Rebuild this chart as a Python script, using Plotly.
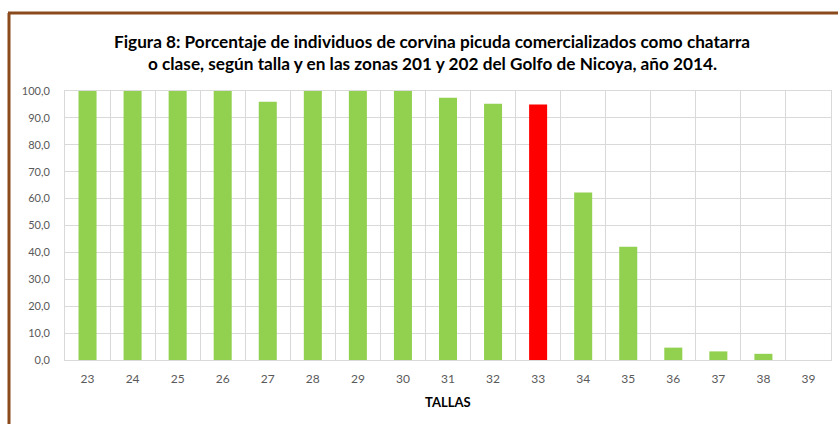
import plotly.graph_objects as go

tallas = ["23", "24", "25", "26", "27", "28", "29", "30", "31", "32", "33", "34", "35", "36", "37", "38", "39"]
porcentaje = [100.0, 100.0, 100.0, 100.0, 96.0, 100.0, 100.0, 100.0, 97.5, 95.3, 95.0, 62.3, 42.1, 4.6, 3.2, 2.3, 0.0]
colores = ["#92d050"] * 10 + ["#ff0000"] + ["#92d050"] * 6

W, H = 838, 424
L, R, T, B = 65, 7, 91, 64
pw, ph = W - L - R, H - T - B

def px_x(x):
    return (x - L) / pw

def px_y(y):
    return (H - B - y) / ph

fig = go.Figure(go.Bar(x=tallas, y=porcentaje, marker=dict(color=colores, line=dict(width=0)), width=0.4))

brown = "#8a4a1c"
font = "Lato, Calibri, sans-serif"
fig.update_layout(
    width=W, height=H,
    margin=dict(l=L, r=R, t=T, b=B),
    paper_bgcolor="white", plot_bgcolor="white",
    separators=",.",
    showlegend=False,
    xaxis=dict(type="category", tickson="boundaries", showgrid=True, gridcolor="#d9d9d9", gridwidth=1,
               showline=True, linecolor="#d9d9d9", linewidth=1, ticks="", ticklabelstandoff=8,
               tickfont=dict(family=font, size=12, color="#595959"), mirror=True),
    yaxis=dict(range=[0, 100], dtick=10, tickformat=".1f", showgrid=True, gridcolor="#d9d9d9", gridwidth=1,
               showline=True, linecolor="#d9d9d9", linewidth=1, ticks="", ticklabelstandoff=12, zeroline=False,
               tickfont=dict(family=font, size=11, color="#595959"), mirror=True),
    shapes=[
        dict(type="line", xref="paper", yref="paper", x0=px_x(9), x1=px_x(9), y0=px_y(424), y1=px_y(13),
             line=dict(color=brown, width=3)),
        dict(type="line", xref="paper", yref="paper", x0=px_x(8), x1=px_x(838), y0=px_y(13), y1=px_y(13),
             line=dict(color=brown, width=3)),
    ],
    annotations=[
        dict(text="<b>Figura 8: Porcentaje de individuos de corvina picuda comercializados como chatarra</b>",
             xref="paper", yref="paper", x=px_x(432), y=px_y(41), xanchor="center", yanchor="middle",
             showarrow=False, font=dict(family=font, size=17.2, color="#000000")),
        dict(text="<b>o clase, según talla y en las zonas 201 y 202 del Golfo de Nicoya, año 2014.</b>",
             xref="paper", yref="paper", x=px_x(432), y=px_y(63), xanchor="center", yanchor="middle",
             showarrow=False, font=dict(family=font, size=17.2, color="#000000")),
        dict(text="<b>TALLAS</b>", xref="paper", yref="paper", x=px_x(448), y=px_y(402),
             xanchor="center", yanchor="middle", showarrow=False,
             font=dict(family=font, size=13, color="#000000")),
    ],
)

fig.write_html("out.html", config={"displayModeBar": False},
               post_script="document.body.style.margin='0';document.body.style.overflow='hidden';")
